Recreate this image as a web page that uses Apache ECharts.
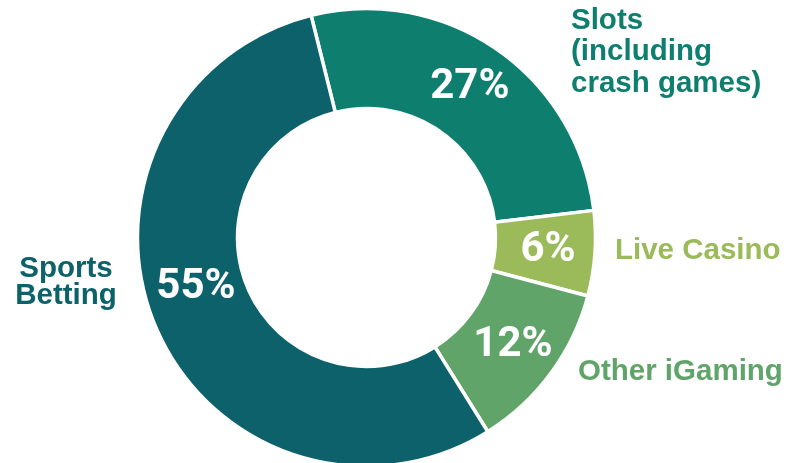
<!DOCTYPE html>
<html>
<head>
<meta charset="utf-8">
<script src="https://cdn.jsdelivr.net/npm/echarts@6/dist/echarts.min.js"></script>
<style>html,body{margin:0;padding:0;background:#fff}#c{width:791px;height:463px}</style>
</head>
<body>
<div id="c"></div>
<script>
const categories = ['Slots\n(including\ncrash games)', 'Live Casino', 'Other iGaming', 'Sports\nBetting'];
const shares = [27, 6, 12, 55];
const shareLabels = ['27%', '6%', '12%', '55%'];
const colors = ['#0E7F6E', '#9BBA59', '#61A46A', '#0D616B'];

// label placement (outside names)
const outerPos = [
  { x: 571, y: 5, align: 'left', verticalAlign: 'top' },
  { x: 615, y: 251, align: 'left', verticalAlign: 'middle' },
  { x: 578, y: 372, align: 'left', verticalAlign: 'middle' },
  { x: 66, y: 282, align: 'center', verticalAlign: 'middle' }
];
const innerOffset = [[0, 0], [0, 0], [0, 0], [-3, -21]];

const chart = echarts.init(document.getElementById('c'), null, { renderer: 'canvas' });
const center = [366.5, 237.5];
const radius = [129, 229];
const startAngle = 104;

chart.setOption({
  animation: false,
  series: [
    {
      type: 'pie',
      center, radius, startAngle,
      clockwise: true,
      silent: true,
      itemStyle: { borderColor: '#fff', borderWidth: 3.5 },
      label: {
        show: true, position: 'inside',
        color: '#fff', fontFamily: 'Roboto, sans-serif',
        fontWeight: 'bold', fontSize: 42
      },
      labelLine: { show: false },
      data: shares.map((v, i) => ({
        value: v, name: categories[i],
        itemStyle: { color: colors[i] },
        label: { formatter: shareLabels[i], offset: innerOffset[i] }
      }))
    },
    {
      type: 'pie',
      center, radius, startAngle,
      clockwise: true,
      silent: true,
      itemStyle: { color: 'rgba(0,0,0,0)', borderWidth: 0 },
      label: {
        show: true, position: 'outside',
        fontFamily: '"Liberation Sans", Arial, sans-serif',
        fontWeight: 'bold', fontSize: 29.5, lineHeight: 31.5,
        overflow: 'none'
      },
      labelLine: { show: false },
      labelLayout: function (p) {
        return Object.assign({ width: 400 }, outerPos[p.dataIndex]);
      },
      data: shares.map((v, i) => ({
        value: v, name: categories[i],
        label: { formatter: categories[i], color: colors[i], lineHeight: i === 3 ? 27 : 31.5, align: outerPos[i].align }
      }))
    }
  ]
});
</script>
</body>
</html>
